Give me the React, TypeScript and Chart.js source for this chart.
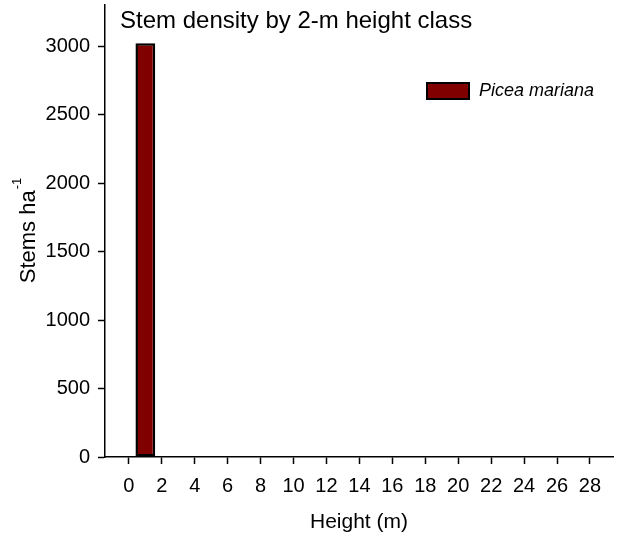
import React, { useEffect, useRef } from 'react';
import { Chart, registerables } from 'chart.js';

Chart.register(...registerables);

const FONT = "'Liberation Sans', Arial, Helvetica, sans-serif";

const chartTitle = 'Stem density by 2-m height class';
const seriesLabel = 'Picea mariana';
const heightClasses = [1];
const stemDensity = [3020];
const xTickValues = [0, 2, 4, 6, 8, 10, 12, 14, 16, 18, 20, 22, 24, 26, 28];
const yTickValues = [0, 500, 1000, 1500, 2000, 2500, 3000];
const xAxisTitle = 'Height (m)';
const yAxisTitleMain = 'Stems ha';
const yAxisTitleSup = '-1';

const extrasPlugin = {
  id: 'extras',
  afterDraw(chart: any) {
    const ctx = chart.ctx as CanvasRenderingContext2D;
    const area = chart.chartArea;
    ctx.save();
    // title inside plot area
    ctx.fillStyle = '#000';
    ctx.font = `24px ${FONT}`;
    ctx.textAlign = 'left';
    ctx.textBaseline = 'alphabetic';
    ctx.fillText(chartTitle, area.left + 15, area.top + 23);

    // legend
    const ds = chart.data.datasets[0];
    const bx = area.right - 186;
    const by = area.top + 78;
    ctx.fillStyle = ds.backgroundColor;
    ctx.fillRect(bx, by, 42, 16);
    ctx.lineWidth = 2;
    ctx.strokeStyle = '#000';
    ctx.strokeRect(bx, by, 42, 16);
    ctx.fillStyle = '#000';
    ctx.font = `italic 18px ${FONT}`;
    ctx.textBaseline = 'middle';
    ctx.fillText(ds.label, bx + 52, by + 8);

    // y-axis title with superscript
    ctx.translate(35, (area.top + area.bottom) / 2);
    ctx.rotate(-Math.PI / 2);
    ctx.textBaseline = 'alphabetic';
    ctx.font = `22px ${FONT}`;
    const wMain = ctx.measureText(yAxisTitleMain).width;
    ctx.font = `13px ${FONT}`;
    const wSup = ctx.measureText(yAxisTitleSup).width;
    const start = -(wMain + wSup) / 2;
    ctx.font = `22px ${FONT}`;
    ctx.fillText(yAxisTitleMain, start, 0);
    ctx.font = `13px ${FONT}`;
    ctx.fillText(yAxisTitleSup, start + wMain + 1, -14);
    ctx.restore();
  },
};

export default function App() {
  const canvasRef = useRef<HTMLCanvasElement | null>(null);

  useEffect(() => {
    document.body.style.margin = '0';
    const canvas = canvasRef.current;
    if (!canvas) return;
    const chart = new Chart(canvas, {
      type: 'bar',
      data: {
        datasets: [
          {
            label: seriesLabel,
            data: heightClasses.map((h, i) => ({ x: h, y: stemDensity[i] })),
            backgroundColor: '#800000',
            borderColor: '#000000',
            borderWidth: 2.5,
            borderSkipped: false,
            barPercentage: 0.6,
            categoryPercentage: 1,
          },
        ],
      },
      options: {
        animation: false,
        responsive: false,
        maintainAspectRatio: false,
        layout: { padding: { top: 5, right: 4, left: 0, bottom: 0 } },
        plugins: {
          legend: { display: false },
          tooltip: { enabled: false },
          title: { display: false },
        },
        scales: {
          x: {
            type: 'linear',
            offset: false,
            min: -1.45,
            max: 29.4,
            afterBuildTicks: (scale: any) => {
              scale.ticks = xTickValues.map((v) => ({ value: v }));
            },
            afterFit: (scale: any) => {
              scale.height = 81;
              scale.paddingLeft = 0;
              scale.paddingRight = 0;
            },
            grid: {
              display: true,
              offset: false,
              drawOnChartArea: false,
              drawTicks: true,
              tickLength: 7,
              tickWidth: 1.5,
              tickColor: '#000',
              color: '#000',
            },
            border: { display: true, color: '#000', width: 1.5 },
            ticks: {
              color: '#000',
              font: { family: FONT, size: 20 },
              padding: 10,
              maxRotation: 0,
              autoSkip: false,
              callback: (v: any) => String(v),
            },
            title: {
              display: true,
              text: xAxisTitle,
              color: '#000',
              font: { family: FONT, size: 21 },
              padding: { top: 0, bottom: 3 },
            },
          },
          y: {
            type: 'linear',
            min: 0,
            max: 3300,
            afterBuildTicks: (scale: any) => {
              scale.ticks = yTickValues.map((v) => ({ value: v }));
            },
            afterFit: (scale: any) => {
              scale.width = 105;
              scale.paddingTop = 0;
              scale.paddingBottom = 0;
            },
            grid: {
              display: true,
              offset: false,
              drawOnChartArea: false,
              drawTicks: true,
              tickLength: 7,
              tickWidth: 1.5,
              tickColor: '#000',
              color: '#000',
            },
            border: { display: true, color: '#000', width: 1.5 },
            ticks: {
              color: '#000',
              font: { family: FONT, size: 20 },
              padding: 8,
              autoSkip: false,
              callback: (v: any) => String(v),
            },
          },
        },
      },
      plugins: [extrasPlugin],
    } as any);
    return () => chart.destroy();
  }, []);

  return (
    <div style={{ width: 617, height: 538, position: 'relative', background: '#fff' }}>
      <canvas ref={canvasRef} width={617} height={538} style={{ display: 'block' }} />
    </div>
  );
}
